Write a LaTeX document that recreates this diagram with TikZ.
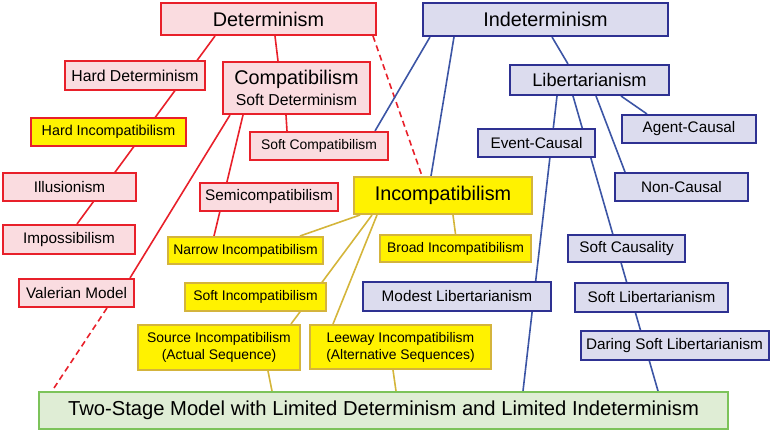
\documentclass[tikz,border=0pt]{standalone}
\usepackage{fontspec}
\setmainfont{Liberation Sans}
\usetikzlibrary{calc}
\pgfdeclarelayer{background}
\pgfsetlayers{background,main}
\definecolor{redB}{HTML}{E8202A}
\definecolor{pinkF}{HTML}{FADCE0}
\definecolor{blueB}{HTML}{2E3192}
\definecolor{lavF}{HTML}{DCDCEE}
\definecolor{yelF}{HTML}{FFF200}
\definecolor{yelB}{HTML}{D4B43C}
\definecolor{greenB}{HTML}{7CC35A}
\definecolor{greenF}{HTML}{DFEDD5}
\definecolor{blueL}{HTML}{3C55A5}
\definecolor{yelL}{HTML}{D4B53A}
\newcommand{\fbig}{\fontsize{19.8}{23}\selectfont}
\newcommand{\fmid}{\fontsize{15.3}{18}\selectfont}
\newcommand{\fsml}{\fontsize{13.9}{17}\selectfont}
\tikzset{
  box/.style={draw, line width=2pt, inner sep=0pt, align=center, text=black},
  redbox/.style={box, draw=redB, fill=pinkF},
  bluebox/.style={box, draw=blueB, fill=lavF},
  yelbox/.style={box, draw=yelB, fill=yelF},
  greenbox/.style={box, draw=greenB, fill=greenF},
  redline/.style={draw=redB, line width=1.6pt},
  blueline/.style={draw=blueL, line width=1.6pt},
  yelline/.style={draw=yelL, line width=1.6pt},
  dashline/.style={draw=redB, line width=1.6pt, dash pattern=on 6pt off 4pt},
}
\begin{document}
\begin{tikzpicture}[x=1pt,y=-1pt]
\useasboundingbox (0,0) rectangle (771,431);
% red family
\node[redbox, font=\fbig, minimum width=215pt, minimum height=32pt] (det) at (268.5,19) {Determinism};
\node[redbox, font=\fontsize{15.8}{18}\selectfont, minimum width=140pt, minimum height=29pt] (hd) at (135,75.5) {Hard Determinism};
\node[redbox, font=\fontsize{15.8}{21}\selectfont, minimum width=147pt, minimum height=52pt] (comp) at (296.5,88) {{\fbig Compatibilism}\\Soft Determinism};
\node[yelbox, draw=redB, font=\fontsize{14.3}{17}\selectfont, minimum width=155pt, minimum height=28pt] (hi) at (108.5,132) {Hard Incompatibilism};
\node[redbox, font=\fsml, minimum width=138pt, minimum height=28pt] (sc) at (319,146) {Soft Compatibilism};
\node[redbox, font=\fmid, minimum width=133pt, minimum height=28pt] (ill) at (69.5,187) {Illusionism};
\node[redbox, font=\fmid, minimum width=138pt, minimum height=28pt] (semi) at (269,197) {Semicompatibilism};
\node[redbox, font=\fmid, minimum width=132pt, minimum height=29pt] (imp) at (69,239.5) {Impossibilism};
\node[redbox, font=\fmid, minimum width=115pt, minimum height=28pt] (val) at (76.5,293) {Valerian Model};
% yellow family
\node[yelbox, font=\fbig, minimum width=178pt, minimum height=37pt] (inc) at (443,195.5) {Incompatibilism};
\node[yelbox, font=\fsml, minimum width=155pt, minimum height=27pt] (ni) at (245.5,250.5) {Narrow Incompatibilism};
\node[yelbox, font=\fsml, minimum width=151pt, minimum height=27pt] (bi) at (455.5,248.5) {Broad Incompatibilism};
\node[yelbox, font=\fsml, minimum width=141pt, minimum height=28pt] (si) at (255.5,297) {Soft Incompatibilism};
\node[yelbox, font=\fsml, minimum width=162pt, minimum height=45pt] (src) at (219,347.5) {Source Incompatibilism\\(Actual Sequence)};
\node[yelbox, font=\fsml, minimum width=181pt, minimum height=44pt] (lee) at (400.5,347) {Leeway Incompatibilism\\(Alternative Sequences)};
% blue family
\node[bluebox, font=\fbig, minimum width=245pt, minimum height=33pt] (ind) at (545.5,19.5) {Indeterminism};
\node[bluebox, font=\fontsize{18.2}{21}\selectfont, minimum width=159pt, minimum height=30pt] (lib) at (589.5,80) {Libertarianism};
\node[bluebox, font=\fmid, minimum width=117pt, minimum height=28pt] (ec) at (536.5,143) {Event-Causal};
\node[bluebox, font=\fmid, minimum width=134pt, minimum height=28pt] (ac) at (689,129) {Agent-Causal};
\node[bluebox, font=\fmid, minimum width=133pt, minimum height=28pt] (nc) at (681.5,187) {Non-Causal};
\node[bluebox, font=\fmid, minimum width=117pt, minimum height=27pt] (scau) at (626.5,248.5) {Soft Causality};
\node[bluebox, font=\fmid, minimum width=153pt, minimum height=29pt] (sl) at (651.5,297.5) {Soft Libertarianism};
\node[bluebox, font=\fmid, minimum width=188pt, minimum height=29pt] (dsl) at (674.5,345.5) {Daring Soft Libertarianism};
\node[bluebox, font=\fmid, minimum width=188pt, minimum height=29pt] (ml) at (457,296.5) {Modest Libertarianism};
% green
\node[greenbox, font=\fontsize{20.2}{24}\selectfont, minimum width=689pt, minimum height=37pt] (two) at (383.5,410.5) {Two-Stage Model with Limited Determinism and Limited Indeterminism};
% connectors
\begin{pgfonlayer}{background}
\draw[redline] ([xshift=-53.5pt]det.south) -- ([xshift=8pt]imp.north);
\draw[redline] ([xshift=6.5pt]det.south) -- ([xshift=-18.5pt]comp.north);
\draw[dashline] ([xshift=104.5pt]det.south) -- ([xshift=-21pt]inc.north);
\draw[redline] ([xshift=-66.5pt]comp.south) -- ([xshift=53.5pt]val.north);
\draw[redline] ([xshift=-53.5pt]comp.south) -- ([xshift=-31.5pt]ni.north);
\draw[redline] ([xshift=-10.5pt]comp.south) -- ([xshift=-32pt]sc.north);
\draw[dashline] ([xshift=30.5pt]val.south) -- ([xshift=-331.5pt]two.north);
\draw[blueline] ([xshift=-115.5pt]ind.south) -- ([xshift=56pt]sc.north);
\draw[blueline] ([xshift=-91.5pt]ind.south) -- ([xshift=-12pt]inc.north);
\draw[blueline] ([xshift=6.5pt]ind.south) -- ([xshift=-21.5pt]lib.north);
\draw[blueline] ([xshift=-32.5pt]lib.south) -- ([xshift=139.5pt]two.north);
\draw[blueline] ([xshift=-16.5pt]lib.south) -- ([xshift=274.5pt]two.north);
\draw[blueline] ([xshift=6.5pt]lib.south) -- ([xshift=-56.5pt]nc.north);
\draw[blueline] ([xshift=31.5pt]lib.south) -- ([xshift=-42pt]ac.north);
\draw[yelline] ([xshift=10pt]inc.south) -- (bi.north);
\draw[yelline] ([xshift=-83pt]inc.south) -- ([xshift=54.5pt]ni.north);
\draw[yelline] ([xshift=-71pt]inc.south) -- ([xshift=72pt]src.north);
\draw[yelline] ([xshift=49pt]src.south) -- ([xshift=-111.5pt]two.north);
\draw[yelline] ([xshift=-66pt]inc.south) -- ([xshift=-67.5pt]lee.north);
\draw[yelline] ([xshift=-7.5pt]lee.south) -- ([xshift=12.5pt]two.north);
\end{pgfonlayer}
\end{tikzpicture}
\end{document}
